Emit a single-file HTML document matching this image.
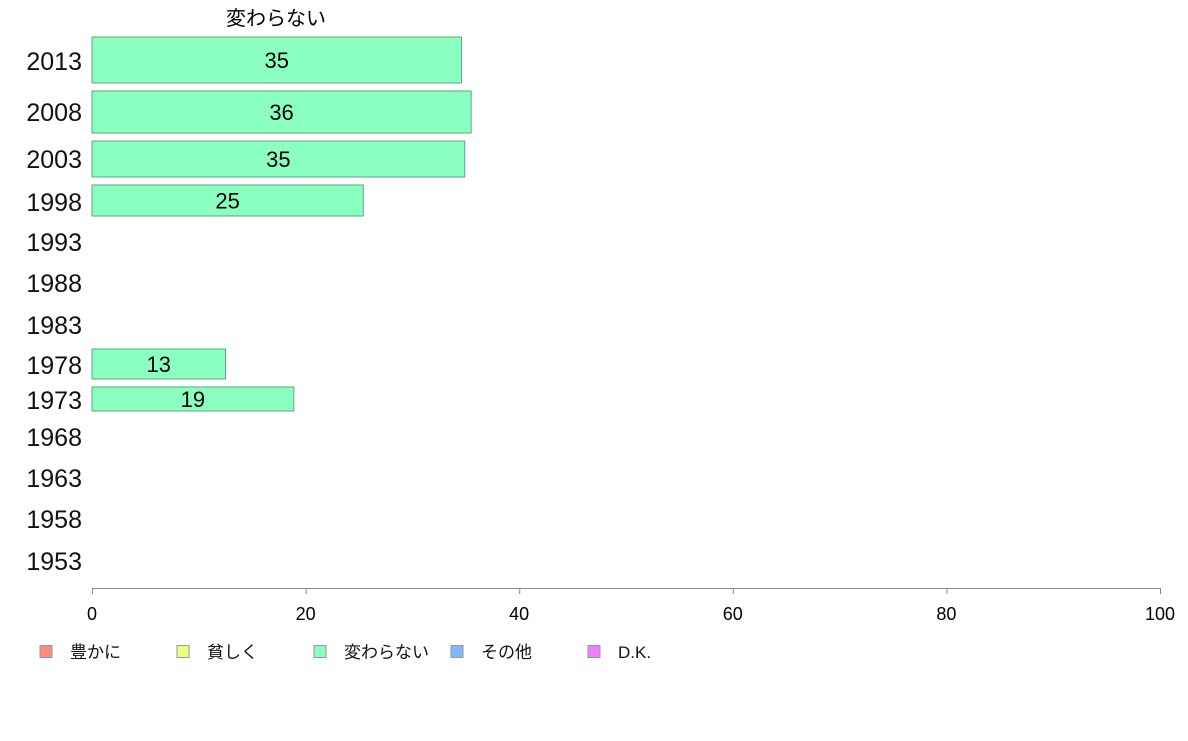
<!DOCTYPE html>
<html><head><meta charset="utf-8"><style>
body{margin:0;background:#fff;width:1188px;height:736px;overflow:hidden}
svg text{font-family:"Liberation Sans","Noto Sans CJK JP",sans-serif}
</style></head><body>
<svg id="c" width="1188" height="736">
<text x="276" y="25" font-size="20" text-anchor="middle" fill="#000">変わらない</text>
<g id="rows"></g>
<g id="axis"></g>
<g id="legend"></g>
</svg>
<script>
const years = ["2013","2008","2003","1998","1993","1988","1983","1978","1973","1968","1963","1958","1953"];
const values = [34.6, 35.5, 34.9, 25.4, null, null, null, 12.5, 18.9, null, null, null, null];
const labels = ["35","36","35","25","","","","13","19","","","",""];
const ticks = [0,20,40,60,80,100];
const legendNames = ["豊かに","貧しく","変わらない","その他","D.K."];
const legendColors = ["#ff8a80","#eeff80","#8affc0","#80b8ff","#ee80ff"];
// layout (not data)
const rowTop = [37,91,141,185,226,268,310,349,387,423,463,504,546];
const rowBot = [83,133,177,216,258,300,340,379,411,451,493,534,576];
const labelY = [61,112,159,202,242,283,325,365,400,437,478,519,561];
const X0=92, X1=1160;
const x = v => X0 + (X1-X0)*v/100;
const NS="http://www.w3.org/2000/svg";
function mk(t,a,p){const e=document.createElementNS(NS,t);for(const k in a)e.setAttribute(k,a[k]);p.appendChild(e);return e;}
const rows=document.getElementById('rows');
years.forEach((y,i)=>{
  const t=mk('text',{x:82,y:labelY[i]+9,'font-size':25,'text-anchor':'end',fill:'#111'},rows);
  t.textContent=y;
  
  
  if(values[i]!=null){
    const r=mk('rect',{x:X0,y:rowTop[i],width:x(values[i])-X0,height:rowBot[i]-rowTop[i],fill:'#8affc0',stroke:'#5aa880','stroke-width':1},rows);
    
    
    const v=mk('text',{x:(X0+x(values[i]))/2,y:(rowTop[i]+rowBot[i])/2+8,'font-size':22,'text-anchor':'middle',fill:'#000'},rows);
    v.textContent=labels[i];
    
    
  }
});
const ax=document.getElementById('axis');
mk('line',{x1:X0,x2:X1,y1:588.5,y2:588.5,stroke:'#888','stroke-width':1},ax);
ticks.forEach(t=>{
  mk('line',{x1:x(t)+.5,x2:x(t)+.5,y1:588,y2:594,stroke:'#888','stroke-width':1},ax);
  const l=mk('text',{x:x(t),y:620,'font-size':18,'text-anchor':'middle',fill:'#000'},ax);
  l.textContent=t;
  
  
});
const lg=document.getElementById('legend');
legendNames.forEach((n,i)=>{
  const bx=40+i*137;
  const s=mk('rect',{x:bx,y:645.5,width:12,height:12,fill:legendColors[i],stroke:'#999','stroke-width':1},lg);
  
  
  const t=mk('text',{x:bx+30,y:658,'font-size':17,fill:'#111'},lg);
  t.textContent=n;
  
  
});
</script>
</body></html>
